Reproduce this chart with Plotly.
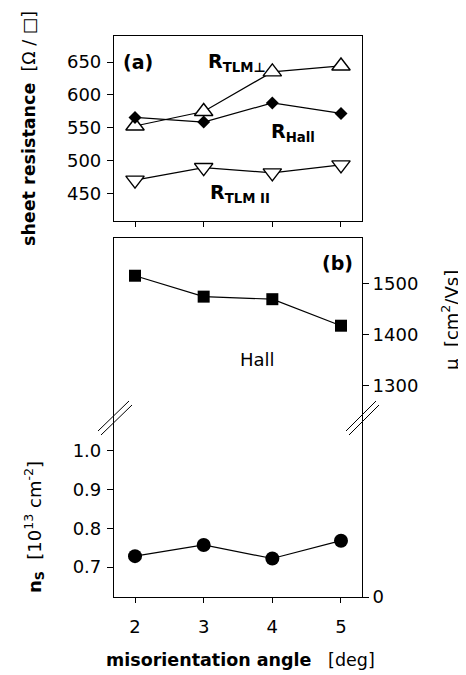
import plotly.graph_objects as go

# ---- data ----
angle = [2, 3, 4, 5]
r_tlm_perp = [553, 575, 635, 644]
r_hall = [566, 559, 588, 572]
r_tlm_par = [471, 490, 482, 494]
mobility = [1516, 1475, 1470, 1418]
ns = [0.728, 0.757, 0.722, 0.768]

sr_ticks = [450, 500, 550, 600, 650]
ns_ticks = [0.7, 0.8, 0.9, 1.0]
mu_ticks = [1300, 1400, 1500]

# page has an 8px body margin; size the figure so it fits the 466x675 window
OFF = 8
W, H = 466 - OFF, 675 - OFF
ML, MR, MT, MB = 114 - OFF, 104, 36 - OFF, 78
PW = W - ML - MR
PH = H - MT - MB
LEFT_PX = 114      # plot left edge in window pixels
BOTTOM_PX = 597    # plot bottom edge in window pixels

def px(x):
    return (x - LEFT_PX) / PW

def py(y):
    return (BOTTOM_PX - y) / PH

FONT = "DejaVu Sans"
BLACK = "black"

fig = go.Figure()

line = dict(color=BLACK, width=1.2)
fig.add_trace(go.Scatter(x=angle, y=r_tlm_perp, mode="lines+markers", line=line,
                         marker=dict(symbol="triangle-up", size=16, color="white",
                                     line=dict(color=BLACK, width=1.4)),
                         xaxis="x", yaxis="y", showlegend=False))
fig.add_trace(go.Scatter(x=angle, y=r_hall, mode="lines+markers", line=line,
                         marker=dict(symbol="diamond", size=10, color=BLACK),
                         xaxis="x", yaxis="y", showlegend=False))
fig.add_trace(go.Scatter(x=angle, y=r_tlm_par, mode="lines+markers", line=line,
                         marker=dict(symbol="triangle-down", size=16, color="white",
                                     line=dict(color=BLACK, width=1.4)),
                         xaxis="x", yaxis="y", showlegend=False))
fig.add_trace(go.Scatter(x=angle, y=mobility, mode="lines+markers", line=line,
                         marker=dict(symbol="square", size=12, color=BLACK),
                         xaxis="x2", yaxis="y3", showlegend=False))
fig.add_trace(go.Scatter(x=angle, y=ns, mode="lines+markers", line=line,
                         marker=dict(symbol="circle", size=14, color=BLACK),
                         xaxis="x2", yaxis="y2", showlegend=False))
fig.add_trace(go.Scatter(x=[], y=[], xaxis="x2", yaxis="y4", showlegend=False,
                         hoverinfo="skip"))

xr = [1.694, 5.306]
axcommon = dict(showgrid=False, zeroline=False, showline=True, linecolor=BLACK,
                linewidth=1.2, ticks="outside", tickcolor=BLACK, tickwidth=1.2,
                tickfont=dict(family=FONT, size=18, color=BLACK))

top_dom = [py(221), 1.0]
bot_dom = [0.0, py(238)]
brk = py(418)

fig.update_layout(
    width=W, height=H,
    margin=dict(l=ML, r=MR, t=MT, b=MB, pad=0),
    paper_bgcolor="white", plot_bgcolor="rgba(0,0,0,0)",
    xaxis=dict(**axcommon, domain=[0, 1], anchor="y", range=xr, tickvals=angle,
               showticklabels=False, ticklen=5, mirror=True),
    yaxis=dict(**axcommon, domain=top_dom, anchor="x", range=[409, 689.4],
               tickvals=sr_ticks, ticklen=6, mirror=True, ticklabelstandoff=2),
    xaxis2=dict(**axcommon, domain=[0, 1], anchor="y2", range=xr, tickvals=angle,
                ticklen=5, mirror=True, ticklabelstandoff=8),
    yaxis2=dict(**axcommon, domain=bot_dom, anchor="x2", range=[0.6225, 1.55],
                tickvals=ns_ticks, tickformat=".1f", ticklen=6, mirror=True,
                ticklabelstandoff=2),
    yaxis3=dict(**{**axcommon, "showline": False}, domain=[brk, bot_dom[1]],
                anchor="x2", side="right", range=[1237, 1590], tickvals=mu_ticks,
                ticklen=6),
    yaxis4=dict(**{**axcommon, "showline": False}, domain=[0, brk],
                anchor="x2", side="right", range=[0, 100], tickvals=[0], ticklen=6),
)

# axis-break marks
for (x0, y0, x1, y1) in [(98, 431, 129, 401), (101, 435, 132, 405),
                         (346, 431, 376, 401), (349, 435, 379, 405)]:
    fig.add_shape(type="line", xref="paper", yref="paper",
                  x0=px(x0), y0=py(y0), x1=px(x1), y1=py(y1),
                  line=dict(color=BLACK, width=1))

def ann(text, x, y, xref, yref, size=18, xanchor="center", yanchor="middle", angle=0):
    fig.add_annotation(text=text, x=x, y=y, xref=xref, yref=yref, showarrow=False,
                       xanchor=xanchor, yanchor=yanchor, textangle=angle,
                       font=dict(family=FONT, size=size, color=BLACK))

ann("<b>(a)</b>", 2.044, 650, "x", "y", size=19)
ann("<b>R<sub>TLM⊥</sub></b>", 3.03, 649, "x", "y", size=19, xanchor="left")
ann("<b>R<sub>Hall</sub></b>", 3.95, 543, "x", "y", size=19, xanchor="left")
ann("<b>R<sub>TLM II</sub></b>", 3.07, 451, "x", "y", size=19, xanchor="left")
ann("<b>(b)</b>", 4.952, 1541, "x2", "y3", size=19)
ann("Hall", 3.79, 1351, "x2", "y3", size=18)

ann("<b>sheet resistance</b>\u00a0\u00a0[Ω / □]", px(29), py(129), "paper", "paper",
    size=17.5, angle=-90)
ann("<b>n<sub>S</sub></b>\u00a0\u00a0[10<sup>13</sup> cm<sup>-2</sup>]", px(34), py(527),
    "paper", "paper", size=18, angle=-90)
ann("μ\u00a0\u00a0[cm<sup>2</sup>/Vs]", px(450), py(320), "paper", "paper",
    size=18, angle=-90)
ann("<b>misorientation angle</b>\u00a0\u00a0\u00a0[deg]", px(240), py(660), "paper", "paper",
    size=17.5)

fig.write_html("out.html")
